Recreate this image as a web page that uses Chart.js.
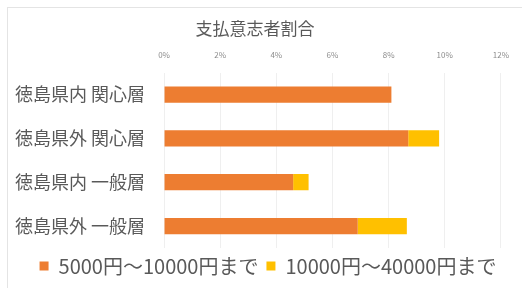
<!DOCTYPE html>
<html>
<head>
<meta charset="utf-8">
<script src="https://cdn.jsdelivr.net/npm/chart.js@4"></script>
<style>
  html, body { margin: 0; padding: 0; background: #fff; }
  #wrap { width: 522px; height: 288px; position: relative; }
  #frame { position: absolute; left: 7px; top: 7px; right: 0; bottom: 0;
           border-left: 1px solid #e4e4e4; border-top: 1px solid #e4e4e4; pointer-events: none; }
</style>
</head>
<body>
<div id="wrap"><canvas id="myChart1"></canvas><div id="frame"></div></div>
<script>
const categories = ["徳島県内 関心層", "徳島県外 関心層", "徳島県内 一般層", "徳島県外 一般層"];
const seriesNames = ["5000円～10000円まで", "10000円～40000円まで"];
const low = [8.1, 8.7, 4.6, 6.9];
const high = [0, 1.1, 0.55, 1.75];
const colors = ['#ED7D31', '#FFC000'];

const font = "'Noto Sans CJK JP', 'Noto Sans', sans-serif";

// legend in the original sits a bit right of centre
const legendShift = {
    id: 'legendShift',
    afterLayout: function(chart) {
        chart.legend.left += 13;
        chart.legend.right += 13;
    }
};

const config = {
    type: 'bar',
    data: {
        labels: categories,
        datasets: [{
            label: seriesNames[0],
            data: low,
            backgroundColor: colors[0],
            barPercentage: 0.37,
            categoryPercentage: 1.0
        }, {
            label: seriesNames[1],
            data: high,
            backgroundColor: colors[1],
            barPercentage: 0.37,
            categoryPercentage: 1.0
        }]
    },
    options: {
        indexAxis: 'y',
        responsive: true,
        maintainAspectRatio: false,
        animation: false,
        layout: { padding: { left: 4, right: 16, top: 6, bottom: 2 } },
        scales: {
            x: {
                position: 'top',
                stacked: true,
                min: 0,
                max: 12,
                ticks: {
                    stepSize: 2,
                    color: '#8c8c8c',
                    font: { family: font, size: 8 },
                    padding: 13,
                    callback: function(v) { return v + '%'; }
                },
                grid: { color: '#efefef', drawTicks: false },
                border: { display: false }
            },
            y: {
                stacked: true,
                ticks: {
                    color: '#595959',
                    font: { family: font, size: 18 },
                    padding: 11
                },
                grid: { display: false },
                border: { display: false }
            }
        },
        plugins: {
            title: {
                display: true,
                text: '支払意志者割合',
                color: '#595959',
                font: { family: font, size: 17, weight: 'normal', lineHeight: 1.0 },
                padding: { top: 14, bottom: 0 }
            },
            legend: {
                position: 'bottom',
                labels: {
                    color: '#595959',
                    font: { family: font, size: 20 },
                    boxWidth: 9,
                    boxHeight: 9,
                    padding: 8
                }
            },
            tooltip: { enabled: false }
        }
    },
    plugins: [legendShift]
};

new Chart(document.getElementById('myChart1'), config);
</script>
</body>
</html>
